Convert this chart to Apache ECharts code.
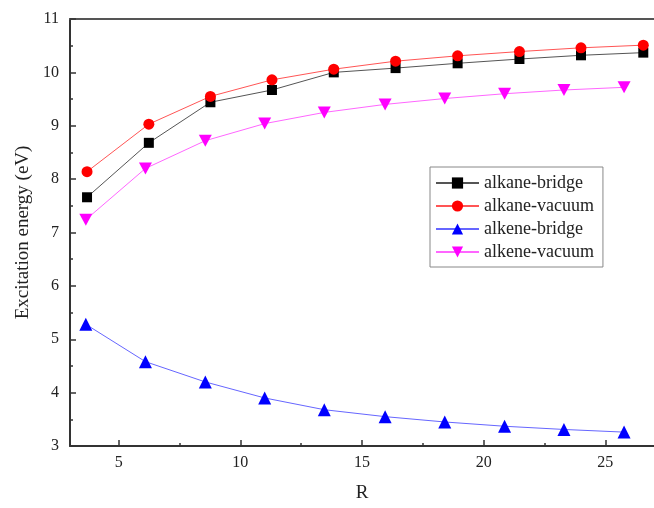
<!DOCTYPE html>
<html>
<head>
<meta charset="utf-8">
<script src="https://cdn.jsdelivr.net/npm/echarts@6/dist/echarts.min.js"></script>
<style>html,body{margin:0;padding:0;background:#fff}#c{width:654px;height:508px}</style>
</head>
<body>
<div id="c"></div>
<script>
const seriesNames = ['alkane-bridge', 'alkane-vacuum', 'alkene-bridge', 'alkene-vacuum'];
const alkaneR = [3.7, 6.24, 8.77, 11.3, 13.84, 16.38, 18.93, 21.47, 24.0, 26.56];
const alkeneR = [3.65, 6.1, 8.56, 11.0, 13.45, 15.95, 18.4, 20.86, 23.3, 25.77];
const alkaneBridge = [7.66, 8.68, 9.44, 9.67, 10.0, 10.08, 10.17, 10.25, 10.32, 10.37];
const alkaneVacuum = [8.14, 9.03, 9.55, 9.86, 10.06, 10.21, 10.31, 10.39, 10.46, 10.51];
const alkeneBridge = [5.28, 4.58, 4.2, 3.9, 3.68, 3.55, 3.45, 3.37, 3.31, 3.26];
const alkeneVacuum = [7.24, 8.2, 8.72, 9.04, 9.25, 9.4, 9.51, 9.6, 9.67, 9.72];
const xMajorTicks = [5, 10, 15, 20, 25];
const xMinorTicks = [7.5, 12.5, 17.5, 22.5];

const FONT = '"Liberation Serif", "Times New Roman", serif';
const pair = (xs, ys) => xs.map((x, i) => [x, ys[i]]);

const styles = [
  {symbol: 'rect', size: 10, color: '#000', line: '#555'},
  {symbol: 'circle', size: 11, color: '#f00', line: '#f55'},
  {symbol: 'triangle', size: 13, color: '#00f', line: '#66f'},
  {symbol: 'path://M0,0 L10,0 L5,9 Z', size: [13, 12], color: '#f0f', line: '#f6f'}
];
const datas = [pair(alkaneR, alkaneBridge), pair(alkaneR, alkaneVacuum), pair(alkeneR, alkeneBridge), pair(alkeneR, alkeneVacuum)];

const chart = echarts.init(document.getElementById('c'), null, {renderer: 'canvas'});
chart.setOption({
  animation: false,
  backgroundColor: '#fff',
  grid: {left: 70, right: -3, top: 19, bottom: 58},
  legend: {
    orient: 'vertical', left: 430, top: 167,
    padding: [7, 9, 6, 5], itemGap: 5, itemWidth: 43, itemHeight: 14,
    borderColor: '#888', borderWidth: 1,
    textStyle: {fontFamily: FONT, fontSize: 18, color: '#222', padding: [0, 0, 0, 0]},
    data: seriesNames
  },
  xAxis: [
    {
      type: 'value', min: 3, max: 27, position: 'bottom',
      name: 'R', nameLocation: 'middle', nameGap: 38,
      nameTextStyle: {fontFamily: FONT, fontSize: 19, color: '#222'},
      axisLine: {lineStyle: {color: '#333', width: 2}},
      axisTick: {inside: true, length: 6, customValues: xMajorTicks, lineStyle: {color: '#333', width: 1.5}},
      axisLabel: {customValues: xMajorTicks, margin: 9, fontFamily: FONT, fontSize: 16, color: '#222'},
      splitLine: {show: false}
    },
    {
      type: 'value', min: 3, max: 27, position: 'bottom',
      axisLine: {show: false},
      axisTick: {inside: true, length: 3, customValues: xMinorTicks, lineStyle: {color: '#333', width: 1.5}},
      axisLabel: {show: false},
      splitLine: {show: false}
    },
    {
      type: 'value', min: 3, max: 27, position: 'top',
      axisLine: {lineStyle: {color: '#555', width: 2}},
      axisTick: {show: false}, axisLabel: {show: false}, splitLine: {show: false}
    }
  ],
  yAxis: [{
    type: 'value', min: 3, max: 11, interval: 1,
    name: 'Excitation energy (eV)', nameLocation: 'middle', nameGap: 37,
    nameTextStyle: {fontFamily: FONT, fontSize: 19, color: '#222'},
    axisLine: {show: true, lineStyle: {color: '#333', width: 2}},
    axisTick: {inside: true, length: 6, lineStyle: {color: '#333', width: 1.5}},
    minorTick: {show: true, splitNumber: 2, length: 3, lineStyle: {color: '#333', width: 1.5}},
    axisLabel: {margin: 11, fontFamily: FONT, fontSize: 16, color: '#222'},
    splitLine: {show: false}
  }],
  series: seriesNames.map((n, i) => ({
    name: n, type: 'line', xAxisIndex: 0, yAxisIndex: 0,
    data: datas[i],
    symbol: styles[i].symbol, symbolSize: styles[i].size,
    itemStyle: {color: styles[i].color},
    lineStyle: {color: styles[i].line, width: 1},
    showSymbol: true
  }))
});
</script>
</body>
</html>
